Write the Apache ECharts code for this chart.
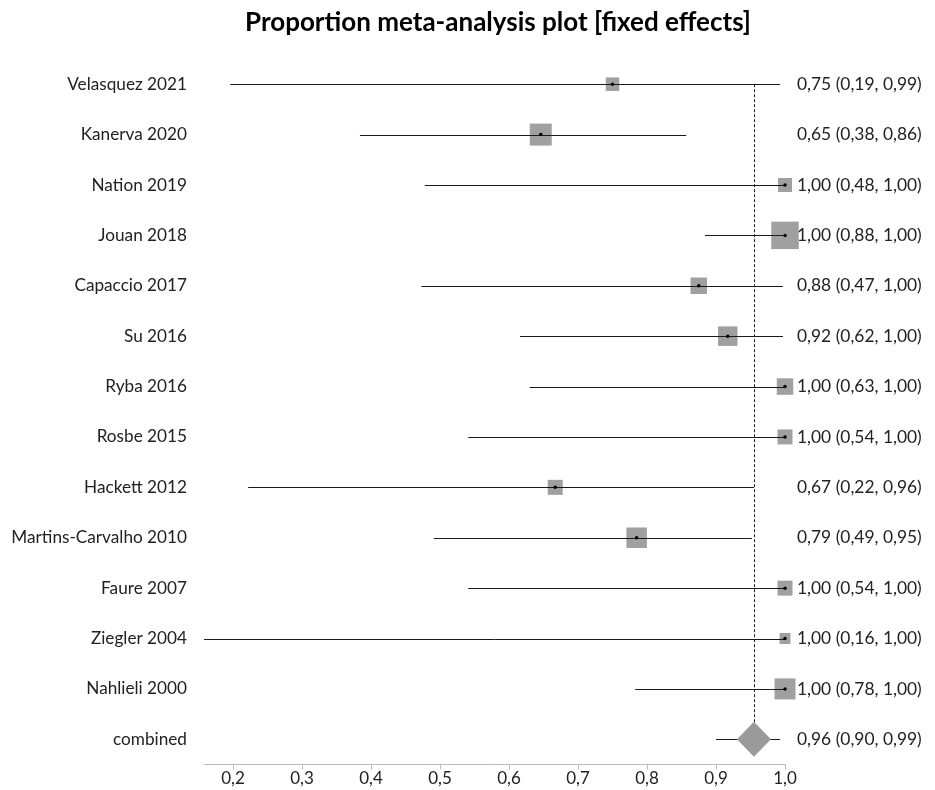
<!DOCTYPE html>
<html>
<head>
<meta charset="utf-8">
<script src="https://cdn.jsdelivr.net/npm/echarts@6/dist/echarts.min.js"></script>
<style>
html,body{margin:0;padding:0;background:#fff;}
#chart{width:935px;height:790px;}
</style>
</head>
<body>
<div id="chart"></div>
<script>
// ---- data ----
const studies = ['Velasquez 2021','Kanerva 2020','Nation 2019','Jouan 2018','Capaccio 2017','Su 2016','Ryba 2016','Rosbe 2015','Hackett 2012','Martins-Carvalho 2010','Faure 2007','Ziegler 2004','Nahlieli 2000','combined'];
const estimates = [0.75, 0.646, 1.0, 1.0, 0.875, 0.917, 1.0, 1.0, 0.667, 0.785, 1.0, 1.0, 1.0, 0.955];
const lowerCI  = [0.196, 0.384, 0.478, 0.884, 0.473, 0.616, 0.630, 0.541, 0.222, 0.491, 0.541, 0.158, 0.783, 0.90];
const upperCI  = [0.993, 0.857, 1.0, 0.997, 0.997, 0.997, 1.0, 1.0, 0.955, 0.952, 1.0, 1.0, 1.0, 0.993];
const weights  = [13.5, 22, 14, 27.5, 16.5, 19.5, 16.5, 15, 15, 20.5, 15, 11, 21];
const ciLabels = ['0,75 (0,19, 0,99)','0,65 (0,38, 0,86)','1,00 (0,48, 1,00)','1,00 (0,88, 1,00)','0,88 (0,47, 1,00)','0,92 (0,62, 1,00)','1,00 (0,63, 1,00)','1,00 (0,54, 1,00)','0,67 (0,22, 0,96)','0,79 (0,49, 0,95)','1,00 (0,54, 1,00)','1,00 (0,16, 1,00)','1,00 (0,78, 1,00)','0,96 (0,90, 0,99)'];
const tickValues = [0.2, 0.3, 0.4, 0.5, 0.6, 0.7, 0.8, 0.9, 1.0];
const combinedValue = 0.955;
const titleText = 'Proportion meta-analysis plot [fixed effects]';

// ---- chart ----
const FONT = 'Lato';
const nStudies = studies.length - 1;
const chart = echarts.init(document.getElementById('chart'), null, {renderer: 'canvas'});

const ciData = studies.map((s, i) => [lowerCI[i], upperCI[i], i]);
const squareData = studies.slice(0, nStudies).map((s, i) => ({value: [estimates[i], i], symbolSize: weights[i]}));
const dotData = studies.slice(0, nStudies).map((s, i) => [estimates[i], i]);

const option = {
  animation: false,
  backgroundColor: '#fff',
  title: {
    text: titleText,
    left: 240, top: 5,
    textStyle: {fontFamily: FONT, fontWeight: 'bold', fontSize: 26, color: '#000'}
  },
  grid: {left: 204, right: 150, top: 59, bottom: 25.5},
  xAxis: {
    type: 'value', min: 0.158, max: 1.0,
    axisLine: {show: true, lineStyle: {color: '#bcbcbc', width: 1}},
    axisTick: {show: true, length: 5, lineStyle: {color: '#bcbcbc'}, customValues: tickValues},
    axisLabel: {
      customValues: tickValues, margin: 6,
      fontFamily: FONT, fontSize: 17, color: '#222',
      formatter: v => v.toFixed(1).replace('.', ',')
    },
    splitLine: {show: false}
  },
  yAxis: [
    {
      type: 'category', data: studies, inverse: true,
      axisLine: {show: false}, axisTick: {show: false}, splitLine: {show: false},
      axisLabel: {margin: 17, fontFamily: FONT, fontSize: 17.2, color: '#222'}
    },
    {
      type: 'category', data: ciLabels, inverse: true, position: 'right',
      axisLine: {show: false}, axisTick: {show: false}, splitLine: {show: false},
      axisLabel: {margin: 12, fontFamily: FONT, fontSize: 17.4, color: '#222'}
    }
  ],
  series: [
    {
      type: 'custom', name: 'reference',
      data: [[combinedValue, 0, nStudies]],
      encode: {x: 0, y: [1, 2]},
      z: 1,
      renderItem: function (params, api) {
        const p1 = api.coord([api.value(0), api.value(1)]);
        const p2 = api.coord([api.value(0), api.value(2)]);
        const x = Math.round(p1[0]) + 0.5;
        return {
          type: 'line',
          shape: {x1: x, y1: p1[1], x2: x, y2: p2[1]},
          style: {stroke: '#222', lineWidth: 1, lineDash: [3, 2]}
        };
      }
    },
    {
      type: 'scatter', name: 'weights', symbol: 'rect',
      data: squareData,
      itemStyle: {color: '#a0a0a0', opacity: 1},
      z: 2
    },
    {
      type: 'custom', name: 'ci',
      data: ciData,
      encode: {x: [0, 1], y: 2},
      z: 3,
      renderItem: function (params, api) {
        const y = api.value(2);
        const p1 = api.coord([api.value(0), y]);
        const p2 = api.coord([api.value(1), y]);
        return {
          type: 'line',
          shape: {x1: p1[0], y1: Math.round(p1[1]) + 0.5, x2: p2[0], y2: Math.round(p2[1]) + 0.5},
          style: {stroke: '#1a1a1a', lineWidth: 1}
        };
      }
    },
    {
      type: 'scatter', name: 'points', symbol: 'circle', symbolSize: 3.5,
      data: dotData, itemStyle: {color: '#000', opacity: 1}, z: 4
    },
    {
      type: 'scatter', name: 'combined', symbol: 'diamond', symbolSize: [34, 35],
      data: [[combinedValue, nStudies]], itemStyle: {color: '#9a9a9a', opacity: 1}, z: 5
    }
  ]
};
chart.setOption(option);
</script>
</body>
</html>
